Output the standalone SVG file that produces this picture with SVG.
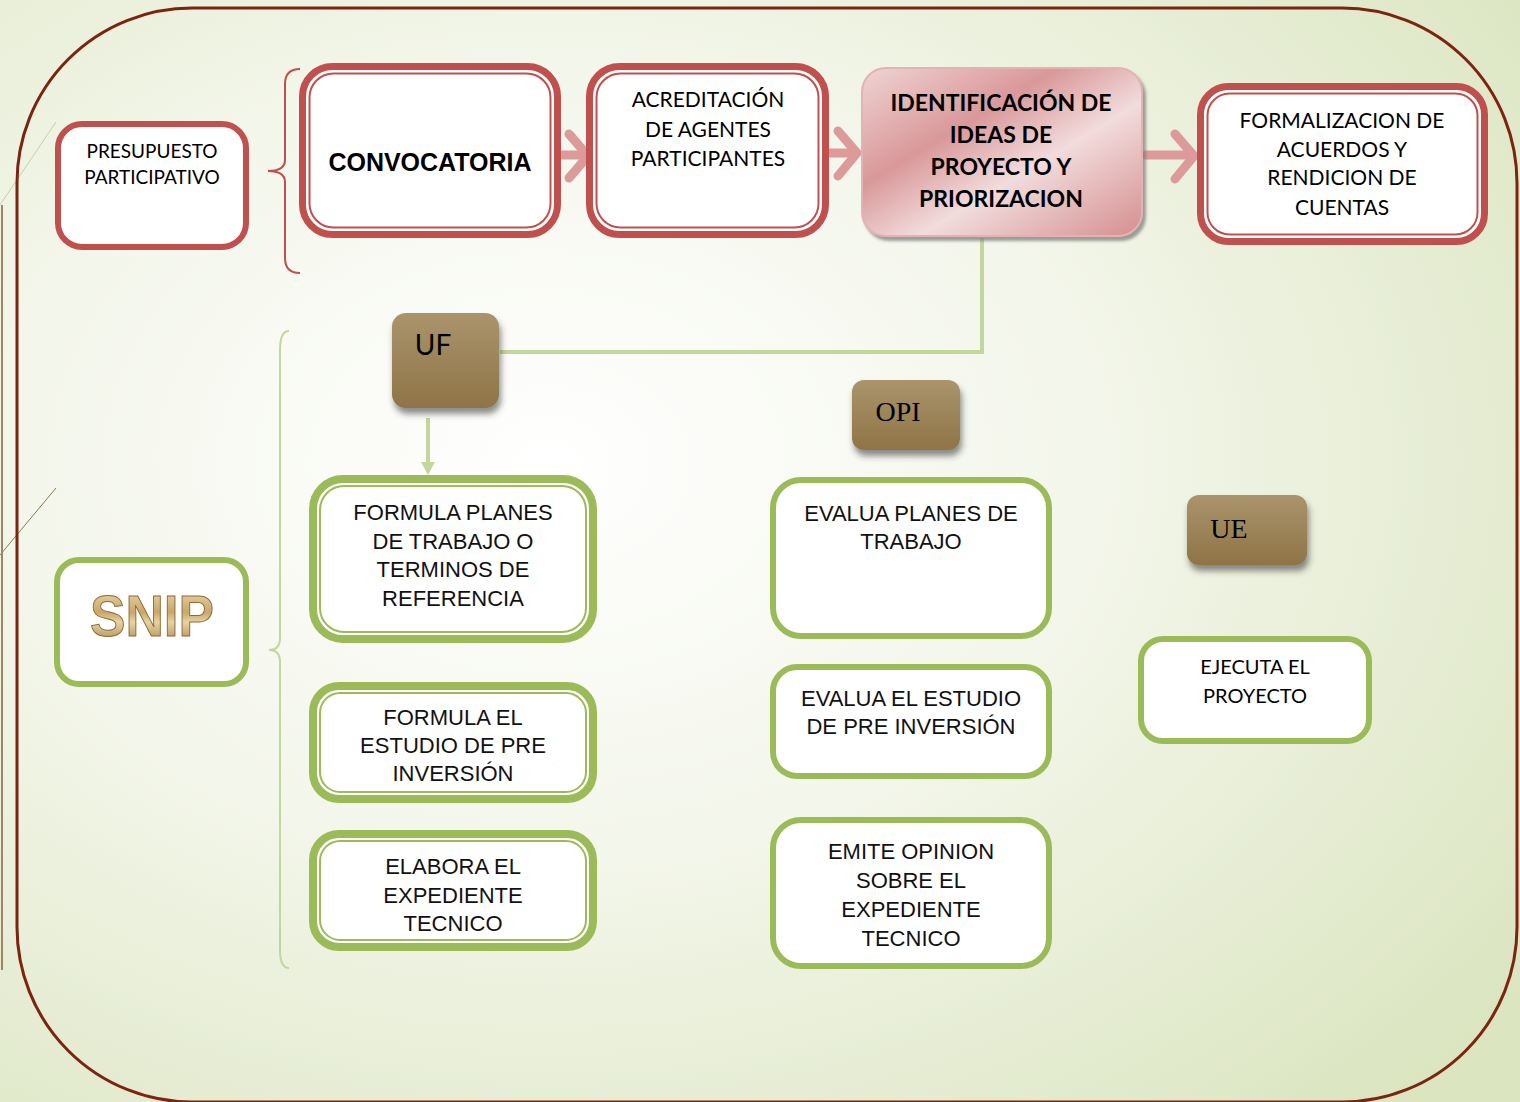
<svg xmlns="http://www.w3.org/2000/svg" width="1520" height="1102" viewBox="0 0 1520 1102">
<defs>
<radialGradient id="bg" cx="0.36" cy="0.42" r="0.8">
<stop offset="0" stop-color="#ffffff"/>
<stop offset="0.45" stop-color="#f3f6ea"/>
<stop offset="1" stop-color="#dbe5c0"/>
</radialGradient>
<linearGradient id="brown" x1="0" y1="0" x2="0" y2="1">
<stop offset="0" stop-color="#ab946c"/>
<stop offset="1" stop-color="#8e7446"/>
</linearGradient>
<linearGradient id="pink" x1="0" y1="0" x2="1" y2="1">
<stop offset="0" stop-color="#f0d4d4"/>
<stop offset="0.35" stop-color="#d9989a"/>
<stop offset="0.6" stop-color="#f2dcdc"/>
<stop offset="1" stop-color="#d58e90"/>
</linearGradient>
<linearGradient id="gold" x1="0" y1="0" x2="0" y2="1">
<stop offset="0" stop-color="#f4e3b8"/>
<stop offset="0.45" stop-color="#c9a66a"/>
<stop offset="0.6" stop-color="#e9d3a0"/>
<stop offset="1" stop-color="#9c7a42"/>
</linearGradient>
<filter id="sh" x="-20%" y="-20%" width="150%" height="160%">
<feDropShadow dx="2" dy="6" stdDeviation="3" flood-color="#333" flood-opacity="0.55"/>
</filter>
<filter id="sh2" x="-10%" y="-10%" width="130%" height="130%">
<feDropShadow dx="3" dy="4" stdDeviation="1.5" flood-color="#777" flood-opacity="0.7"/>
</filter>
<marker id="ga" markerWidth="14" markerHeight="14" refX="0" refY="7" orient="auto" markerUnits="userSpaceOnUse">
<path d="M0,0 L13,7 L0,14 Z" fill="#c3d69b"/>
</marker>
<style>
.cal{font-family:Lato,"Open Sans","Liberation Sans",sans-serif;fill:#000;text-anchor:middle}
.cg{font-family:"Liberation Sans",Arial,sans-serif;fill:#111;text-anchor:middle;font-size:22px}
.redO{fill:#fff;stroke:#c0504d;stroke-width:7}
.redI{fill:none;stroke:#c0504d;stroke-width:2}
.grnO{fill:#fff;stroke:#9bbb59;stroke-width:8}
.grnI{fill:none;stroke:#9bbb59;stroke-width:2}
.grn{fill:#fff;stroke:#9bbb59;stroke-width:6}
.brn{fill:url(#brown);filter:url(#sh)}
.ser{font-family:"Liberation Serif","Times New Roman",serif;fill:#000;font-size:28px}
.pa{stroke:#dc9a99;fill:none;stroke-width:9;stroke-linecap:round;stroke-linejoin:round}
</style>
</defs>
<rect x="0" y="0" width="1520" height="1102" fill="url(#bg)"/>
<g id="decor" fill="none">
<line x1="0" y1="205" x2="56" y2="122" stroke="#cfc9b0" stroke-width="1"/>
<line x1="0" y1="555" x2="56" y2="488" stroke="#8a7a55" stroke-width="1"/>
<line x1="2" y1="205" x2="2" y2="970" stroke="#a08560" stroke-width="2"/>
<rect x="17" y="8" width="1500" height="1094" rx="175" ry="175" stroke="#7b2410" stroke-width="3"/>
</g>
<g id="braces" fill="none">
<path d="M300,69 Q285,69 285,84 L285,160 Q285,171 268,171 Q285,171 285,182 L285,258 Q285,273 300,273" stroke="#c0504d" stroke-width="2"/>
<path d="M289,331 Q280,331 280,350 L280,638 Q280,650 269,650 Q280,650 280,662 L280,950 Q280,968 289,968" stroke="#c3d69b" stroke-width="2"/>
</g>
<g id="connectors">
<polyline points="982,238 982,352 500,352" fill="none" stroke="#c3d69b" stroke-width="4"/>
<line x1="428" y1="418" x2="428" y2="462" stroke="#c3d69b" stroke-width="4" marker-end="url(#ga)"/>
<g class="pa">
<line x1="548" y1="155" x2="585" y2="155"/>
<polyline points="569,134 588,156 569,178"/>
<line x1="807" y1="153" x2="852" y2="153"/>
<polyline points="838,131 857,153 838,176"/>
<line x1="1146" y1="155" x2="1190" y2="155"/>
<polyline points="1175,134 1194,156 1175,179"/>
</g>
</g>
<g id="n-presupuesto">
<rect x="58" y="124" width="188" height="123" rx="24" fill="#fff" stroke="#c0504d" stroke-width="6"/>
<text class="cal" font-size="19" x="152" y="158">PRESUPUESTO</text>
<text class="cal" font-size="19" x="152" y="184">PARTICIPATIVO</text>
</g>
<g id="n-convocatoria">
<rect class="redO" x="302.5" y="66.5" width="255" height="168" rx="30"/>
<rect class="redI" x="309.5" y="73.5" width="241" height="154" rx="24"/>
<text x="430" y="171" font-family="'Liberation Sans',Arial,sans-serif" font-weight="bold" font-size="25" text-anchor="middle" fill="#000">CONVOCATORIA</text>
</g>
<g id="n-acreditacion">
<rect class="redO" x="589.5" y="66.5" width="236" height="168" rx="30"/>
<rect class="redI" x="596.5" y="73.5" width="222" height="154" rx="24"/>
<text class="cal" font-size="21" x="708" y="107">ACREDITACIÓN</text>
<text class="cal" font-size="21" x="708" y="137">DE AGENTES</text>
<text class="cal" font-size="21" x="708" y="166">PARTICIPANTES</text>
</g>
<g id="n-identificacion">
<rect x="862" y="68" width="280" height="168" rx="24" fill="url(#pink)" stroke="#e2b3b3" stroke-width="2" filter="url(#sh2)"/>
<text class="cal" font-size="23" font-weight="bold" x="1001" y="111">IDENTIFICACIÓN DE</text>
<text class="cal" font-size="23" font-weight="bold" x="1001" y="143">IDEAS DE</text>
<text class="cal" font-size="23" font-weight="bold" x="1001" y="175">PROYECTO Y</text>
<text class="cal" font-size="23" font-weight="bold" x="1001" y="207">PRIORIZACION</text>
</g>
<g id="n-formalizacion">
<rect class="redO" x="1200.5" y="86.5" width="284" height="155" rx="28"/>
<rect class="redI" x="1207.5" y="93.5" width="270" height="141" rx="22"/>
<text class="cal" font-size="21" x="1342" y="128">FORMALIZACION DE</text>
<text class="cal" font-size="21" x="1342" y="157">ACUERDOS Y</text>
<text class="cal" font-size="21" x="1342" y="185">RENDICION DE</text>
<text class="cal" font-size="21" x="1342" y="215">CUENTAS</text>
</g>
<g id="n-uf">
<rect class="brn" x="392" y="313" width="107" height="95" rx="14"/>
<text class="cal" font-size="28" x="433" y="355">UF</text>
</g>
<g id="n-opi">
<rect class="brn" x="852" y="380" width="108" height="70" rx="12"/>
<text class="ser" x="898" y="421" text-anchor="middle">OPI</text>
</g>
<g id="n-ue">
<rect class="brn" x="1187" y="495" width="120" height="70" rx="12"/>
<text class="ser" x="1229" y="538" text-anchor="middle">UE</text>
</g>
<g id="n-snip">
<rect class="grn" x="57" y="560" width="189" height="124" rx="22"/>
<text x="152" y="636" font-family="'Liberation Sans',Arial,sans-serif" font-weight="bold" font-size="58" text-anchor="middle" textLength="124" lengthAdjust="spacingAndGlyphs" fill="url(#gold)" stroke="#8a6a36" stroke-width="1">SNIP</text>
</g>
<g id="n-formula-planes">
<rect class="grnO" x="313" y="479" width="280" height="160" rx="30"/>
<rect class="grnI" x="320" y="486" width="266" height="146" rx="24"/>
<text class="cg" x="453" y="520">FORMULA PLANES</text>
<text class="cg" x="453" y="549">DE TRABAJO O</text>
<text class="cg" x="453" y="577">TERMINOS DE</text>
<text class="cg" x="453" y="606">REFERENCIA</text>
</g>
<g id="n-formula-estudio">
<rect class="grnO" x="313" y="686" width="280" height="113" rx="26"/>
<rect class="grnI" x="320" y="693" width="266" height="99" rx="20"/>
<text class="cg" x="453" y="725">FORMULA EL</text>
<text class="cg" x="453" y="753">ESTUDIO DE PRE</text>
<text class="cg" x="453" y="781">INVERSIÓN</text>
</g>
<g id="n-elabora">
<rect class="grnO" x="313" y="834" width="280" height="113" rx="26"/>
<rect class="grnI" x="320" y="841" width="266" height="99" rx="20"/>
<text class="cg" x="453" y="874">ELABORA EL</text>
<text class="cg" x="453" y="903">EXPEDIENTE</text>
<text class="cg" x="453" y="931">TECNICO</text>
</g>
<g id="n-evalua-planes">
<rect class="grn" x="773" y="480" width="276" height="156" rx="28"/>
<text class="cg" x="911" y="521">EVALUA PLANES DE</text>
<text class="cg" x="911" y="549">TRABAJO</text>
</g>
<g id="n-evalua-estudio">
<rect class="grn" x="773" y="667" width="276" height="109" rx="24"/>
<text class="cg" x="911" y="706">EVALUA EL ESTUDIO</text>
<text class="cg" x="911" y="734">DE PRE INVERSIÓN</text>
</g>
<g id="n-emite">
<rect class="grn" x="773" y="820" width="276" height="146" rx="28"/>
<text class="cg" x="911" y="859">EMITE OPINION</text>
<text class="cg" x="911" y="888">SOBRE EL</text>
<text class="cg" x="911" y="917">EXPEDIENTE</text>
<text class="cg" x="911" y="946">TECNICO</text>
</g>
<g id="n-ejecuta">
<rect class="grn" x="1141" y="639" width="228" height="102" rx="22"/>
<text class="cal" font-size="20" x="1255" y="674">EJECUTA EL</text>
<text class="cal" font-size="20" x="1255" y="703">PROYECTO</text>
</g>
</svg>
